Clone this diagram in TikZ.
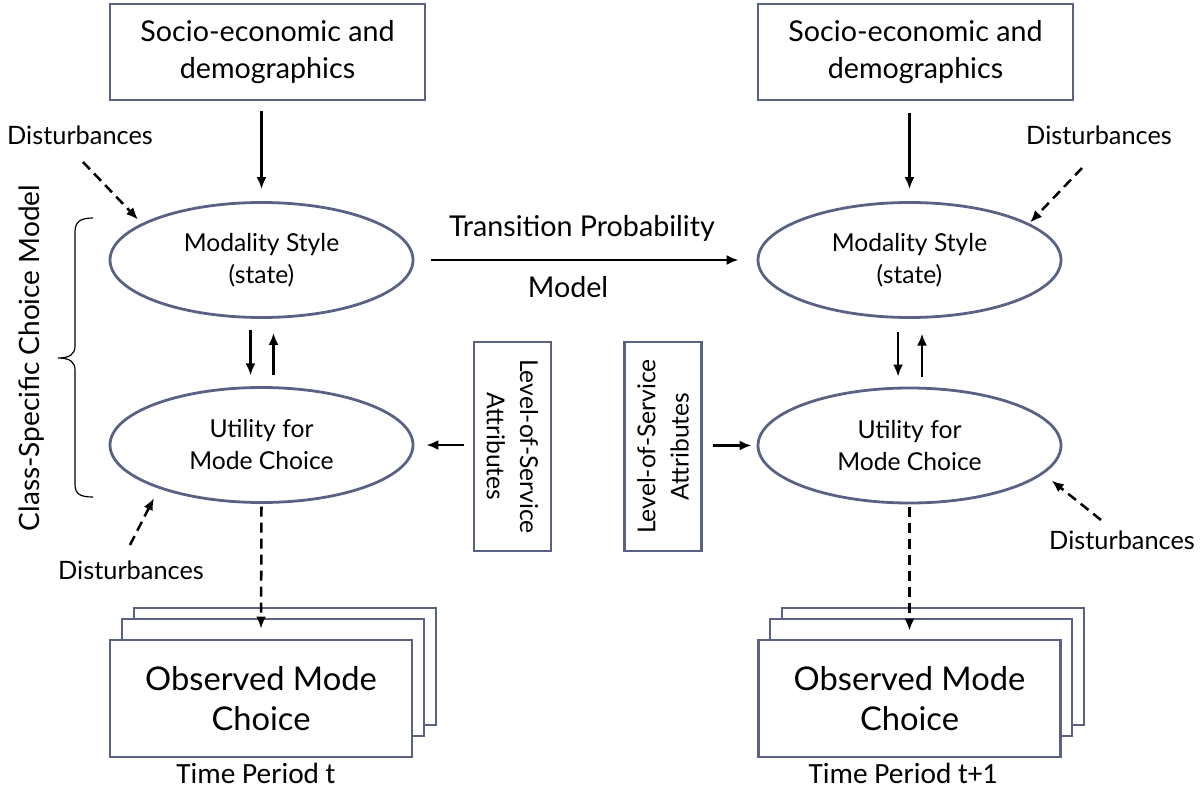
\documentclass[tikz,border=0pt]{standalone}
\usepackage{fontspec}
\setmainfont{Lato}
\newfontfamily\calib{Carlito}
\usetikzlibrary{arrows.meta,shapes.geometric}
\definecolor{boxc}{RGB}{89,98,132}
\begin{document}
\begin{tikzpicture}[x=0.75pt,y=-0.75pt]
\tikzset{
 bx/.style={draw=boxc, line width=2.1pt, fill=white, inner sep=0pt, align=center},
 ell/.style={ellipse, draw=boxc, line width=2.1pt, inner sep=0pt, minimum width=303*0.75pt, minimum height=115*0.75pt, align=center, font=\fontsize{18.5}{24}\selectfont},
 arr/.style={-{Latex[length=9pt,width=7.5pt]}, line width=1.9pt},
 darr/.style={arr, dash pattern=on 7.5pt off 4.5pt},
 lbl/.style={font=\fontsize{19}{23}\selectfont, inner sep=0pt},
 obs/.style={bx, minimum width=302*0.75pt, minimum height=117*0.75pt},
 los/.style={bx, minimum width=209*0.75pt, minimum height=77*0.75pt, font=\fontsize{18.5}{25}\selectfont},
 top/.style={bx, minimum width=315*0.75pt, minimum height=96*0.75pt, font=\fontsize{21.5}{28}\selectfont},
}
\path[use as bounding box] (0,0) rectangle (1204,792);

% top boxes
\node[top] (seL) at (267.5,52) {Socio-economic and\\demographics};
\node[top] (seR) at (915.5,52) {Socio-economic and\\demographics};

% ellipses
\node[ell] (msL) at (261.5,260) {Modality Style\\(state)};
\node[ell] (uL) at (261.5,445) {Utility for\\Mode Choice};
\node[ell] (msR) at (909.5,260) {Modality Style\\(state)};
\node[ell] (uR) at (909.5,445.5) {Utility for\\Mode Choice};

% LOS boxes
\node[los, rotate=-90] (losL) at (512.5,446.5) {Level-of-Service\\Attributes};
\node[los, rotate=90] (losR) at (663,446.5) {Level-of-Service\\Attributes};

% observed stacks
\node[obs] (obsLb) at (285,666.5) {};
\node[obs] (obsLm) at (273,677.5) {};
\node[obs, font=\fontsize{24.5}{30}\selectfont] (obsL) at (261,698.5) {Observed Mode\\Choice};
\node[obs] (obsRb) at (933,666.5) {};
\node[obs] (obsRm) at (921,677.5) {};
\node[obs, font=\fontsize{24.5}{30}\selectfont] (obsR) at (909.5,698.5) {Observed Mode\\Choice};

\node[font=\calib\fontsize{22}{26}\selectfont, inner sep=0pt] (tpL) at (256,773) {Time Period t};
\node[font=\calib\fontsize{22}{26}\selectfont, inner sep=0pt] (tpR) at (903,773) {Time Period t+1};

% labels
\node[lbl] (dL1) at (80,135) {Disturbances};
\node[lbl] (dR1) at (1099,135) {Disturbances};
\node[lbl] (dL2) at (131,570) {Disturbances};
\node[lbl] (dR2) at (1122,540) {Disturbances};
\node[font=\fontsize{21.5}{26}\selectfont, inner sep=0pt] (tp1) at (582,228) {Transition Probability};
\node[font=\fontsize{21.5}{26}\selectfont, inner sep=0pt] (tp2) at (568,287) {Model};
\node[font=\fontsize{21}{26}\selectfont, inner sep=0pt, rotate=90] (csc) at (32,358) {Class-Specific Choice Model};

% brace
\draw[line width=0.9pt] (93,218) .. controls (80,218) and (75,222) .. (75,232) -- (75,346)
  .. controls (75,354) and (70,358) .. (58,358) .. controls (70,358) and (75,362) .. (75,370)
  -- (75,484) .. controls (75,494) and (80,497) .. (93,497);

% connectors
\draw[arr, shorten <=7.5pt, shorten >=9pt] (seL.south -| msL.north) -- (msL.north);
\draw[arr, shorten <=9pt, shorten >=9pt] (seR.south -| msR.north) -- (msR.north);
\draw[arr, shorten <=12.75pt, shorten >=13.5pt] (msL.east) -- (msR.west);

\draw[arr, shorten <=8pt, shorten >=8pt] ([xshift=-8.25pt]msL.south) -- ([xshift=-8.25pt]uL.north);
\draw[arr, shorten <=8pt, shorten >=10.5pt] ([xshift=9pt]uL.north) -- ([xshift=9pt]msL.south);
\draw[arr, shorten <=10pt, shorten >=7.5pt] ([xshift=-8.6pt]msR.south) -- ([xshift=-8.6pt]uR.north);
\draw[arr, shorten <=7.5pt, shorten >=11pt] ([xshift=9.4pt]uR.north) -- ([xshift=9.4pt]msR.south);

\draw[arr, shorten <=6.75pt, shorten >=9pt] (losL.south |- uL.east) -- (uL.east);
\draw[arr, shorten <=7.5pt, shorten >=3.75pt] (losR.south |- uR.west) -- (uR.west);

\draw[darr, shorten <=2pt, shorten >=7.5pt] (uL.south) -- (obsL.north);
\draw[darr, shorten <=2pt, shorten >=6pt] (uR.south) -- (obsR.north);

\coordinate (d1s) at (83,162);
\coordinate (d2s) at (1082,168);
\coordinate (d3s) at (130,545);
\coordinate (d4s) at (1101,520);
\draw[darr, shorten >=4pt] (d1s) -- (msL.163);
\draw[darr, shorten >=1pt] (d2s) -- (msR.17);
\draw[darr, shorten >=8pt] (d3s) -- (uL.203);
\draw[darr, shorten >=8pt] (d4s) -- (uR.-12);
\end{tikzpicture}
\end{document}
